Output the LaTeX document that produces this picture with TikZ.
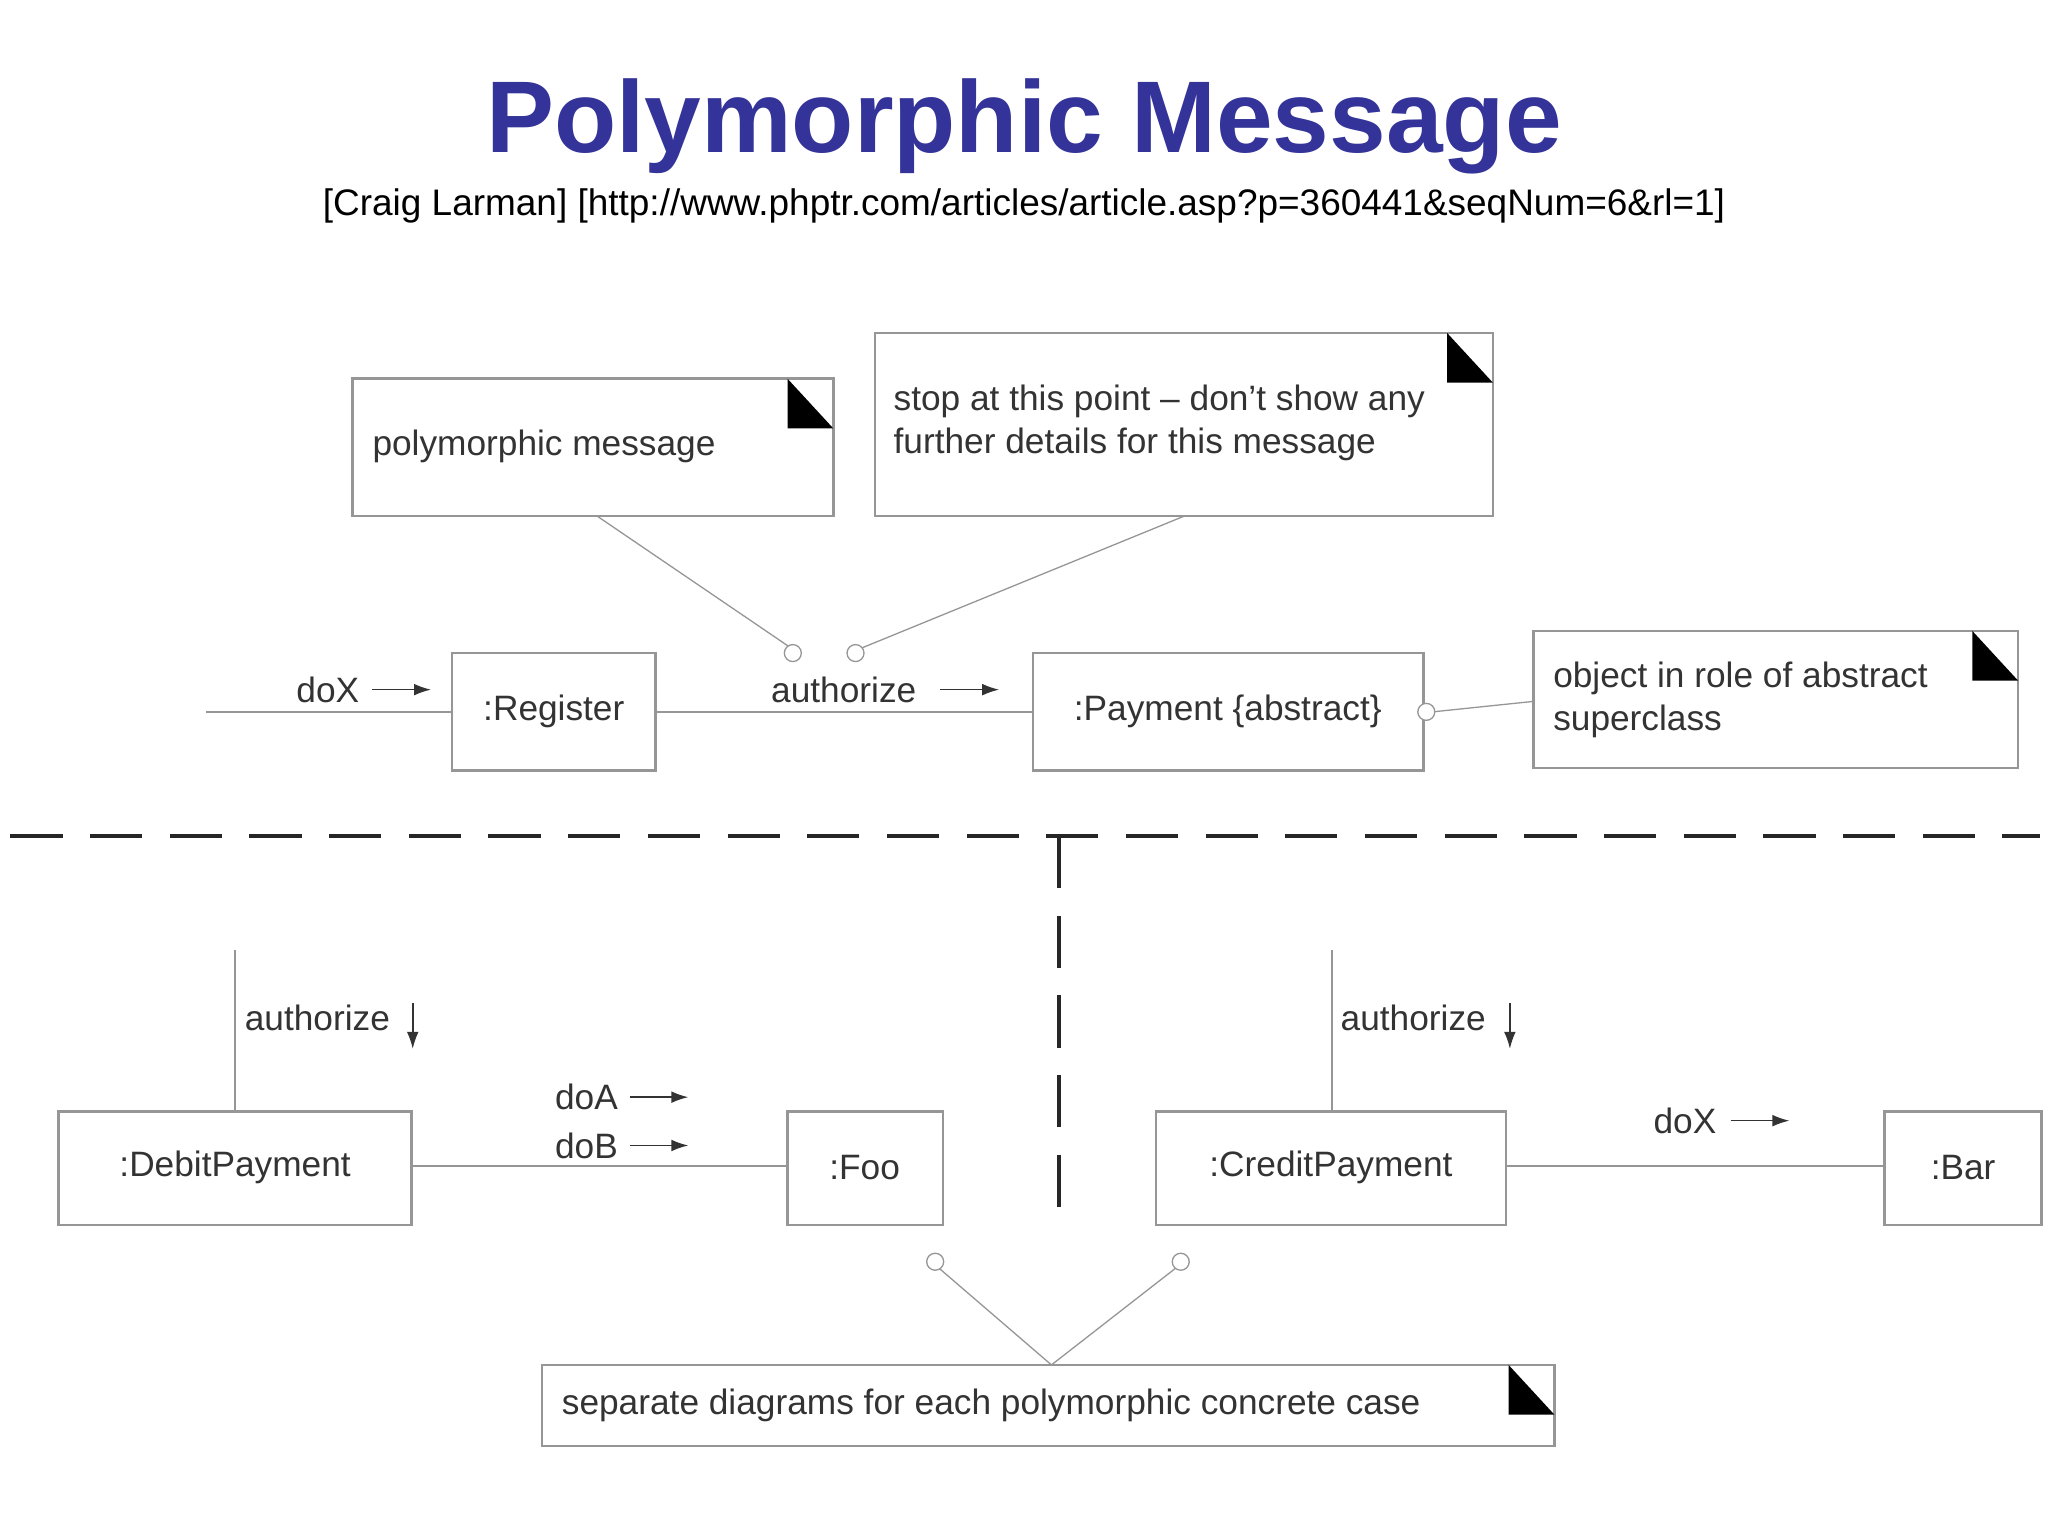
\documentclass[tikz,border=0pt]{standalone}
\usepackage{fontspec}
\setmainfont{Liberation Sans}
\usetikzlibrary{arrows.meta}
\definecolor{titleblue}{RGB}{51,51,153}
\definecolor{ln}{RGB}{150,150,150}
\begin{document}
\begin{tikzpicture}[x=1pt,y=-1pt,
  box/.style={draw=ln,line width=2pt,fill=white,inner sep=0pt},
  conn/.style={draw=ln,line width=1.6pt},
  thin/.style={draw=ln,line width=1pt},
  txt/.style={font=\fontsize{27}{33}\selectfont,text=black!80,inner sep=0pt},
  circ/.style={circle,draw=ln,line width=1pt,fill=white,minimum size=13pt,inner sep=0pt},
  msg/.style={-{Latex[length=13pt,width=9pt]},line width=1.2pt,black!80}]
\useasboundingbox (0,0) rectangle (1568,1176);
\node[font=\fontsize{78}{90}\selectfont\bfseries,text=titleblue] (title) at (784,97) {Polymorphic Message};
\node[font=\fontsize{28.3}{34}\selectfont] (sub) at (784,158) {[Craig Larman] [http://www.phptr.com/articles/article.asp?p=360441\&seqNum=6\&rl=1]};
% notes
\newcommand{\notebox}[5]{%
  \draw[box] (#1,#2) rectangle (#3,#4);
  \fill[black] (#3-35,#2) -- (#3,#2+38) -- (#3-35,#2+38) -- cycle;
  \node[box,draw=none,fill=none,minimum width=0pt] (#5) at ({(#1+#3)/2},{(#2+#4)/2}) {};}
\notebox{270}{290}{638}{395}{n1}
\node[txt,anchor=west] (n1t) at (285,342) {polymorphic message};
\notebox{670}{255}{1143}{395}{n2}
\node[txt,anchor=west,align=left] (n2t) at (684,324) {stop at this point -- don't show any\\further details for this message};
\notebox{1174}{483}{1545}{588}{n3}
\node[txt,anchor=west,align=left] (n3t) at (1189,536) {object in role of abstract\\superclass};
\notebox{415}{1045}{1190}{1107}{n4}
\node[txt,anchor=west] (n4t) at (430,1076) {separate diagrams for each polymorphic concrete case};
% objects
\draw[box] (346,500) rectangle (502,590); \node[txt] (reg) at (424,545) {:Register};
\draw[box] (791,500) rectangle (1090,590); \node[txt] (pay) at (940,545) {:Payment \{abstract\}};
\draw[box] (45,851) rectangle (315,938); \node[txt] (deb) at (180,894) {:DebitPayment};
\draw[box] (603,851) rectangle (722,938); \node[txt] (foo) at (662,894) {:Foo};
\draw[box] (885,851) rectangle (1153,938); \node[txt] (cre) at (1019,894) {:CreditPayment};
\draw[box] (1443,851) rectangle (1563,938); \node[txt] (bar) at (1503,894) {:Bar};
% links
\coordinate (s0) at (158,545);
\draw[conn] (s0) -- (346,545);
\draw[conn] (502,545) -- (791,545);
\draw[conn] (315,893) -- (603,893);
\draw[conn] (1153,893) -- (1443,893);
\draw[conn] (180,727) -- (180,851);
\draw[conn] (1020,727) -- (1020,851);
% messages
\node[txt] (m1) at (251,528) {doX}; \draw[msg] (285,528) -- (330,528);
\node[txt] (m2) at (646,528) {authorize}; \draw[msg] (720,528) -- (765,528);
\node[txt] (m3) at (243,779) {authorize}; \draw[msg] (316,768) -- (316,803);
\node[txt] (m4) at (1082,779) {authorize}; \draw[msg] (1156,768) -- (1156,803);
\node[txt] (m5) at (449,840) {doA}; \draw[msg] (482,840) -- (527,840);
\node[txt] (m6) at (449,877) {doB}; \draw[msg] (482,877) -- (527,877);
\node[txt] (m7) at (1290,858) {doX}; \draw[msg] (1325,858) -- (1370,858);
% note anchors
\draw[thin] (457,395) -- (604,495);
\node[circ] (c1) at (607,500) {};
\draw[thin] (907,395) -- (660,496);
\node[circ] (c2) at (655,500) {};
\draw[thin] (1174,537) -- (1097,545);
\node[circ] (c3) at (1092,545) {};
\draw[thin] (805,1045) -- (719,971);
\draw[thin] (805,1045) -- (900,971);
\node[circ] (c4) at (716,966) {};
\node[circ] (c5) at (904,966) {};
% separators
\draw[black!85,line width=3pt,dash pattern=on 40pt off 21pt] (8,640) -- (1562,640);
\draw[black!85,line width=3pt,dash pattern=on 40pt off 21pt] (811,640) -- (811,925);
\end{tikzpicture}
\end{document}
